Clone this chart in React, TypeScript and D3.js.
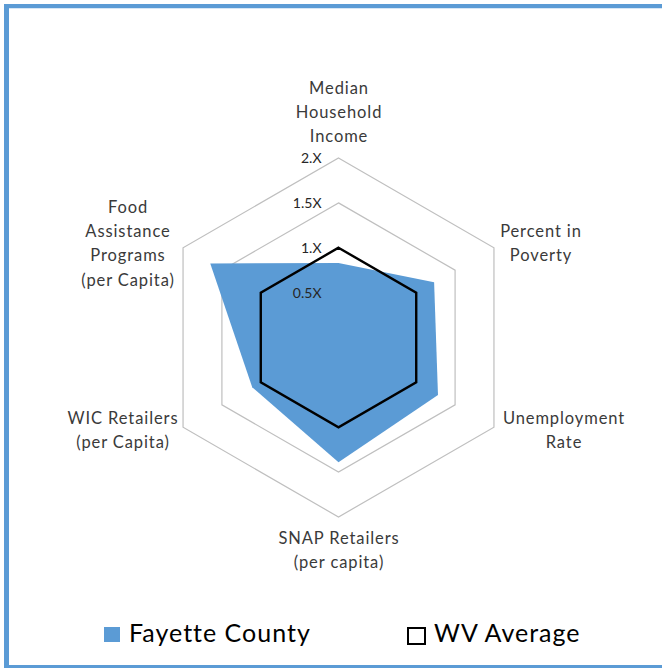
import React from 'react';
import * as d3 from 'd3';

const categories = [
  ['Median', 'Household', 'Income'],
  ['Percent in', 'Poverty'],
  ['Unemployment', 'Rate'],
  ['SNAP Retailers', '(per capita)'],
  ['WIC Retailers', '(per Capita)'],
  ['Food', 'Assistance', 'Programs', '(per Capita)'],
];
const fayette = [0.83, 1.23, 1.28, 1.39, 1.11, 1.65];
const wvAverage = [1, 1, 1, 1, 1, 1];
const ringValues = [0.5, 1, 1.5, 2];
const tickLabels = ['0.5X', '1.X', '1.5X', '2.X'];

const W = 662;
const H = 668;
const cx = 338.5;
const cy = 337.5;
const font = 'Lato, "Open Sans", sans-serif';

// where each category label block sits (centre x, first line y)
const labelPos = [
  [339, 88],
  [541, 231],
  [564, 418],
  [339, 538],
  [123, 418],
  [128, 207],
];

const App = () => {
  const r = d3.scaleLinear().domain([0, 2]).range([0, 179.5]);
  const angle = (i: number) => (i * Math.PI * 2) / categories.length;

  const radar = d3
    .lineRadial<number>()
    .angle((d, i) => angle(i))
    .radius((d) => r(d))
    .curve(d3.curveLinearClosed);

  return (
    <svg width={W} height={H} style={{ position: 'absolute', left: 0, top: 0 }}>
      <rect x={0} y={0} width={W} height={H} fill="white" />
      {/* frame */}
      <rect x={4} y={4} width={W - 4} height={4} fill="#5B9BD5" />
      <rect x={4} y={4} width={5} height={H - 4} fill="#5B9BD5" />
      <rect x={4} y={665} width={W - 4} height={3} fill="#5B9BD5" />
      <line x1={9} x2={W} y1={8.5} y2={8.5} stroke="#D6E6F5" />

      <g transform={`translate(${cx},${cy})`}>
        {ringValues.map((v) => (
          <path
            key={v}
            d={radar(categories.map(() => v)) || ''}
            fill="none"
            stroke="#BFBFBF"
            strokeWidth={1.2}
          />
        ))}
        <path d={radar(fayette) || ''} fill="#5B9BD5" />
        <path
          d={radar(wvAverage) || ''}
          fill="none"
          stroke="#000"
          strokeWidth={2.4}
          strokeLinejoin="miter"
        />
        {ringValues.map((v, i) => (
          <text
            key={v}
            x={-17}
            y={-r(v)}
            dy="0.35em"
            textAnchor="end"
            fontFamily={font}
            fontSize={14}
            fill="#262626"
          >
            {tickLabels[i]}
          </text>
        ))}
      </g>

      {categories.map((lines, i) => (
        <text
          key={i}
          textAnchor="middle"
          fontFamily={font}
          fontSize={16.5}
          letterSpacing={0.9}
          fill="#3a3a3a"
        >
          {lines.map((t, j) => (
            <tspan key={j} x={labelPos[i][0]} y={labelPos[i][1] + j * 24.3} dy="0.35em">
              {t}
            </tspan>
          ))}
        </text>
      ))}

      {/* legend */}
      <rect x={104} y={627} width={16} height={15} fill="#5B9BD5" />
      <text x={129} y={642} fontFamily={font} fontSize={25} letterSpacing={1} fill="#000">
        Fayette County
      </text>
      <rect x={408} y={628} width={17} height={16} fill="none" stroke="#000" strokeWidth={2} />
      <text x={434} y={642} fontFamily={font} fontSize={25} letterSpacing={1} fill="#000">
        WV Average
      </text>
    </svg>
  );
};

export default App;
